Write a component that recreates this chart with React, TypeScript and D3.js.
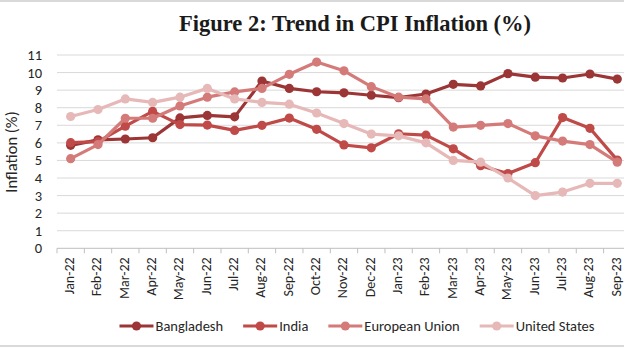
import React, { useEffect, useRef } from "react";
import * as d3 from "d3";

const months = [
  "Jan-22", "Feb-22", "Mar-22", "Apr-22", "May-22", "Jun-22", "Jul-22",
  "Aug-22", "Sep-22", "Oct-22", "Nov-22", "Dec-22", "Jan-23", "Feb-23",
  "Mar-23", "Apr-23", "May-23", "Jun-23", "Jul-23", "Aug-23", "Sep-23",
];

const bangladesh = [5.86, 6.17, 6.22, 6.29, 7.42, 7.56, 7.48, 9.52, 9.1, 8.91, 8.85, 8.71, 8.57, 8.78, 9.33, 9.24, 9.94, 9.74, 9.69, 9.92, 9.63];
const india = [6.01, 6.07, 6.95, 7.79, 7.04, 7.01, 6.71, 7.0, 7.41, 6.77, 5.88, 5.72, 6.52, 6.44, 5.66, 4.7, 4.25, 4.87, 7.44, 6.83, 5.02];
const europeanUnion = [5.1, 5.9, 7.4, 7.4, 8.1, 8.6, 8.9, 9.1, 9.9, 10.6, 10.1, 9.2, 8.6, 8.5, 6.9, 7.0, 7.1, 6.4, 6.1, 5.9, 4.9];
const unitedStates = [7.5, 7.9, 8.5, 8.3, 8.6, 9.1, 8.5, 8.3, 8.2, 7.7, 7.1, 6.5, 6.4, 6.0, 5.0, 4.9, 4.0, 3.0, 3.2, 3.7, 3.7];

const seriesNames = ["Bangladesh", "India", "European Union", "United States"];
const seriesColors = ["#9c3535", "#bf4a47", "#d47b7a", "#e6b8b7"];
const yTicks = [0, 1, 2, 3, 4, 5, 6, 7, 8, 9, 10, 11];

const W = 624;
const H = 351;
const FONT = "Carlito, Lato, 'Liberation Sans', sans-serif";

export default function App() {
  const svgRef = useRef<SVGSVGElement | null>(null);

  useEffect(() => {
    if (!svgRef.current) return;
    const svg = d3.select(svgRef.current);
    svg.selectAll("*").remove();

    const series = [bangladesh, india, europeanUnion, unitedStates];

    const left = 57;
    const step = 27.33;
    const x = d3.scaleBand<string>()
      .domain(months)
      .range([left, left + step * months.length])
      .padding(0);
    const cx = (m: string) => (x(m) ?? 0) + x.bandwidth() / 2;
    const y = d3.scaleLinear().domain([0, 11]).range([248.3, 55]);

    // frame lines
    svg.append("line").attr("x1", 0).attr("x2", W).attr("y1", 1).attr("y2", 1)
      .style("stroke", "#d9d9d9").style("stroke-width", 2);
    svg.append("line").attr("x1", 0).attr("x2", W).attr("y1", 346).attr("y2", 346)
      .style("stroke", "#d9d9d9").style("stroke-width", 2);

    // title
    svg.append("text")
      .attr("x", 355).attr("y", 31)
      .attr("text-anchor", "middle")
      .style("font-family", "'Liberation Serif', 'DejaVu Serif', serif")
      .style("font-weight", "bold")
      .style("font-size", "22.5px")
      .style("fill", "#1a1a1a")
      .text("Figure 2: Trend in CPI Inflation (%)");

    // gridlines
    svg.append("g").selectAll("line")
      .data(yTicks.filter(t => t > 0))
      .enter().append("line")
      .attr("x1", left).attr("x2", W)
      .attr("y1", d => y(d)).attr("y2", d => y(d))
      .style("stroke", "#d9d9d9").style("stroke-width", 1);

    // y labels
    svg.append("g").selectAll("text")
      .data(yTicks)
      .enter().append("text")
      .attr("x", 42).attr("y", d => y(d) + 5)
      .attr("text-anchor", "end")
      .style("font-family", FONT)
      .style("font-size", "14.5px")
      .style("fill", "#262626")
      .text(d => d);

    svg.append("text")
      .attr("transform", "translate(17,152) rotate(-90)")
      .attr("text-anchor", "middle")
      .style("font-family", FONT)
      .style("font-size", "16.5px")
      .style("fill", "#262626")
      .text("Inflation (%)");

    // x axis
    const xAxis = d3.axisBottom(x).tickSize(0).tickFormat(() => "");
    svg.append("g").attr("transform", `translate(0,${y(0)})`).call(xAxis)
      .call(g => g.select(".domain").attr("d", `M${left},0H${W}`).style("stroke", "#bfbfbf"));
    svg.append("g").selectAll("line")
      .data(d3.range(months.length + 1))
      .enter().append("line")
      .attr("x1", i => left + i * x.step()).attr("x2", i => left + i * x.step())
      .attr("y1", y(0)).attr("y2", y(0) + 5)
      .style("stroke", "#bfbfbf");

    svg.append("g").selectAll("text")
      .data(months)
      .enter().append("text")
      .attr("transform", d => `translate(${cx(d) + 3.5},${y(0) + 9}) rotate(-90)`)
      .attr("text-anchor", "end")
      .style("font-family", FONT)
      .style("font-size", "14px")
      .style("fill", "#262626")
      .text(d => d);

    // lines
    const line = d3.line<number>()
      .x((d, i) => cx(months[i]))
      .y(d => y(d));

    series.forEach((vals, si) => {
      const g = svg.append("g");
      g.append("path")
        .datum(vals)
        .attr("d", line)
        .style("fill", "none")
        .style("stroke", seriesColors[si])
        .style("stroke-width", 3.2)
        .style("stroke-linejoin", "round");
      g.selectAll("circle")
        .data(vals)
        .enter().append("circle")
        .attr("cx", (d, i) => cx(months[i]))
        .attr("cy", d => y(d))
        .attr("r", 4.6)
        .style("fill", seriesColors[si]);
    });

    // legend
    const lg = svg.append("g");
    const items = seriesNames.map((name, i) => {
      const it = lg.append("g");
      it.append("line").attr("x1", 0).attr("x2", 34).attr("y1", 0).attr("y2", 0)
        .style("stroke", seriesColors[i]).style("stroke-width", 3.2);
      it.append("circle").attr("cx", 17).attr("cy", 0).attr("r", 4.6).style("fill", seriesColors[i]);
      const t = it.append("text")
        .attr("x", 36).attr("y", 5)
        .style("font-family", FONT)
        .style("font-size", "14.5px")
        .style("fill", "#262626")
        .text(name);
      const w = (t.node() as SVGTextElement).getComputedTextLength();
      return { it, w: 36 + w };
    });
    const gap = 20;
    const total = d3.sum(items, d => d.w) + gap * (items.length - 1);
    let pos = 357 - total / 2;
    items.forEach(d => {
      d.it.attr("transform", `translate(${pos},326)`);
      pos += d.w + gap;
    });
  }, []);

  return (
    <svg
      ref={svgRef}
      width={W}
      height={H}
      style={{ position: "absolute", left: 0, top: 0, background: "#fff" }}
    />
  );
}
